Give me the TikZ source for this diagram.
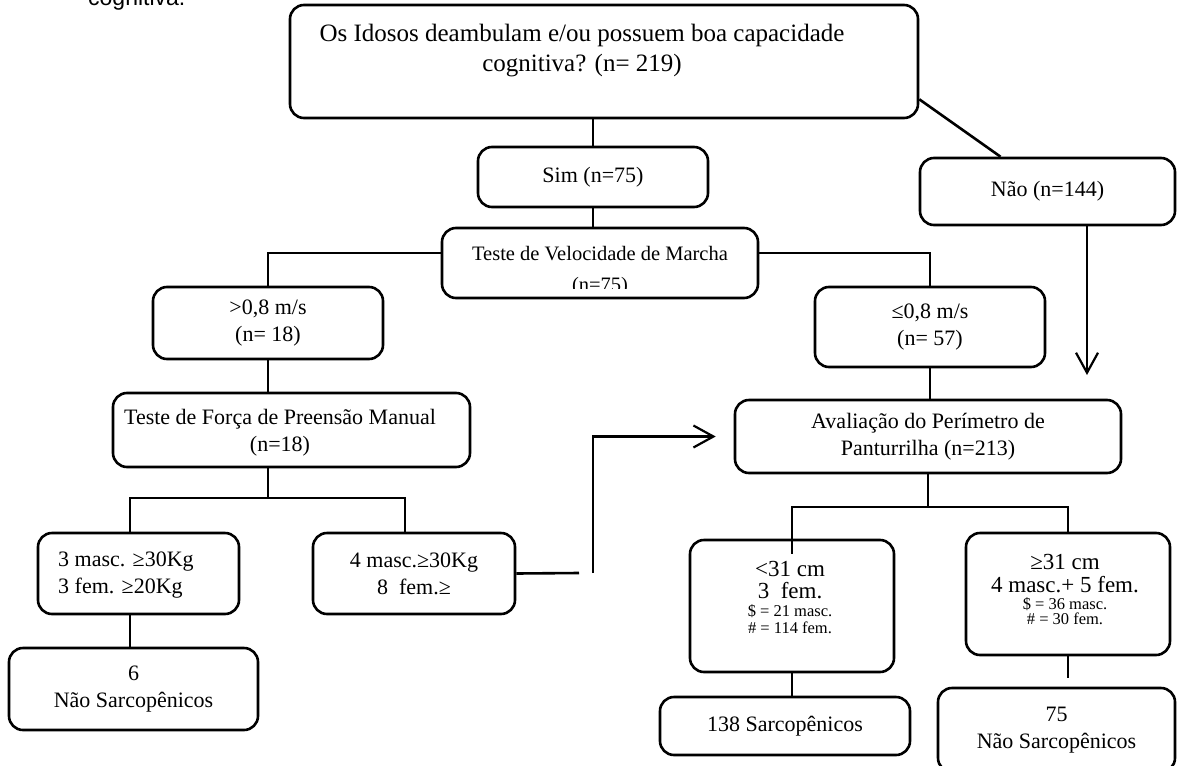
\documentclass[tikz,border=0pt]{standalone}
\usepackage{fontspec}
\setmainfont{Liberation Serif}
\newfontfamily\capfont{Liberation Sans}
\usetikzlibrary{arrows.meta,calc}

\begin{document}
\begin{tikzpicture}[x=1pt,y=-1pt,
  box/.style={draw, line width=2.6pt, rounded corners=14pt, fill=white, align=center, inner sep=0pt, font=\fontsize{22}{27}\selectfont},
  txt/.style={inner sep=0pt, align=center, font=\fontsize{22}{27}\selectfont},
  smalltxt/.style={inner sep=0pt, align=center, font=\fontsize{16.5}{18}\selectfont},
  conn/.style={line width=2.6pt},
  arr/.style={line width=2.2pt, -{Straight Barb[length=20pt,width=22pt,line width=2.2pt]}}
]
\useasboundingbox (0,0) rectangle (1179,766);
\clip (0,0) rectangle (1179,766);

% caption remnant
\node[anchor=base west, inner sep=0pt, font=\capfont\fontsize{23}{27}\selectfont] (cap) at (88,5) {cognitiva.};

% boxes
\node[box, minimum width=628pt, minimum height=113pt] (top) at (604,61.5) {};
\node[txt, font=\fontsize{25}{30}\selectfont] (toptext) at (582,51) {Os Idosos deambulam e/ou possuem boa capacidade\\cognitiva? (n= 219)};

\node[box, minimum width=230pt, minimum height=60pt] (sim) at (593,177) {Sim (n=75)};
\node[box, minimum width=255pt, minimum height=67pt] (nao) at (1047.5,191.5) {Não (n=144)};

\node[box, minimum width=316pt, minimum height=70pt] (tv) at (600,263) {};
\begin{scope}
  \clip (442,230) rectangle (758,288);
  \node[txt, anchor=base, font=\fontsize{20.5}{26}\selectfont] (tv1) at (600,260) {Teste de Velocidade de Marcha};
  \node[txt, anchor=base, font=\fontsize{20.5}{26}\selectfont] (tv2) at (600,291) {(n=75)};
\end{scope}

\node[box, minimum width=230pt, minimum height=72pt] (fast) at (268,323) {>0,8 m/s\\(n= 18)};
\node[box, minimum width=230pt, minimum height=80pt] (slow) at (930,327) {≤0,8 m/s\\(n= 57)};

\node[box, minimum width=357pt, minimum height=74pt] (forca) at (291.5,430) {};
\node[txt] (forcatext) at (280,433) {Teste de Força de Preensão Manual\\(n=18)};

\node[box, minimum width=201pt, minimum height=81pt] (m3) at (138.5,573.5) {};
\node[txt, anchor=west, align=left] (m3text) at (58,575) {3 masc. ≥30Kg\\3 fem. ≥20Kg};

\node[box, minimum width=249pt, minimum height=82pt] (n6) at (133.5,689) {6\\Não Sarcopênicos};

\node[box, minimum width=202pt, minimum height=81pt] (m4) at (414,573.5) {4 masc.≥30Kg\\8\enspace fem.≥};

\node[box, minimum width=386pt, minimum height=73pt] (aval) at (928,436.5) {Avaliação do Perímetro de\\Panturrilha (n=213)};

\node[box, minimum width=204pt, minimum height=132pt] (lt) at (792,606) {};
\node[txt, font=\fontsize{23}{27}\selectfont] (lt1) at (790,569) {<31 cm};
\node[txt, font=\fontsize{23}{27}\selectfont] (lt2) at (790,591) {3\enspace fem.};
\node[smalltxt] (lt3) at (790,611) {\$ = 21 masc.};
\node[smalltxt] (lt4) at (790,628) {\# = 114 fem.};

\node[box, minimum width=204pt, minimum height=122pt] (ge) at (1068,594) {};
\node[txt, font=\fontsize{23}{27}\selectfont] (ge1) at (1065,562) {≥31 cm};
\node[txt, font=\fontsize{23}{27}\selectfont] (ge2) at (1065,585) {4 masc.+ 5 fem.};
\node[smalltxt] (ge3) at (1065,604) {\$ = 36 masc.};
\node[smalltxt] (ge4) at (1065,619) {\# = 30 fem.};

\node[box, minimum width=250pt, minimum height=58pt] (s138) at (785,726) {138 Sarcopênicos};
\node[box, minimum width=237pt, minimum height=84pt] (n75) at (1056.5,730) {75\\Não Sarcopênicos};

% connectors
\draw[conn] (sim.north) -- (sim.north |- top.south);
\draw[conn] ([yshift=20pt]top.south east) -- ([xshift=-47pt]nao.north);
\draw[conn] (sim.south) -- (sim.south |- tv.north);
\draw[conn] ([yshift=10pt]tv.west) -| (fast.north);
\draw[conn] ([yshift=10pt]tv.east) -| (slow.north);
\draw[conn] (fast.south) -- (fast.south |- forca.north);

\coordinate (j1) at (268,498);
\coordinate (j1l) at (130,498);
\coordinate (j1r) at (405,498);
\draw[conn] (j1 |- forca.south) -- (j1);
\draw[conn] (j1l |- m3.north) -- (j1l) -- (j1r) -- (j1r |- m4.north);
\draw[conn] (j1l |- m3.south) -- (j1l |- n6.north);

\coordinate (kink) at (593,573);
\draw[conn] (m4.east) -- ([xshift=-14pt]kink);
\draw[arr] (kink) |- ([xshift=-18pt]aval.west);

\coordinate (naoend) at (1087,375);
\draw[arr] (naoend |- nao.south) -- (naoend);

\draw[conn] (slow.south) -- (slow.south |- aval.north);

\coordinate (j2) at (928,507);
\coordinate (j2l) at (792,507);
\coordinate (j2r) at (1068,507);
\draw[conn] (aval.south) -- (j2);
\draw[conn] ([yshift=-15pt]lt.north) -- (j2l) -- (j2r) -- (ge.north);
\draw[conn] (lt.south) -- (lt.south |- s138.north);
\draw[conn] (ge.south) -- ([yshift=9pt]ge.south |- n75.north);
\end{tikzpicture}
\end{document}
